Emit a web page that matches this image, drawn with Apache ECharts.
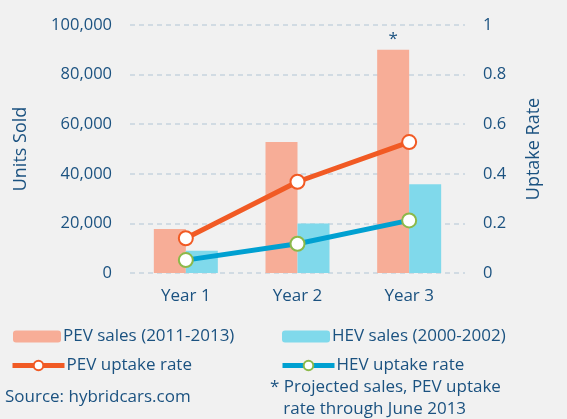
<!DOCTYPE html>
<html>
<head>
<meta charset="utf-8">
<title>PEV vs HEV uptake</title>
<script src="https://cdn.jsdelivr.net/npm/echarts@6/dist/echarts.min.js"></script>
<style>
  html, body { margin: 0; padding: 0; background: #f1f1f1; }
  #main { width: 567px; height: 419px; }
</style>
</head>
<body>
<div id="main"></div>
<script>
var years = ['Year 1', 'Year 2', 'Year 3'];
var pevSales = [17700, 52800, 90000];
var hevSales = [9000, 20000, 35800];
var pevRate = [0.14, 0.368, 0.528];
var hevRate = [0.052, 0.118, 0.212];

var navy = '#1b5280';
var font = 'Open Sans';

var chart = echarts.init(document.getElementById('main'));

var pevBarData = pevSales.map(function (v, i) {
    // last year is projected, marked with a star
    if (i === pevSales.length - 1) {
        return { value: v, label: { show: true, position: 'top', formatter: '*', color: navy, fontSize: 17, distance: 2 } };
    }
    return v;
});

var legendText = { color: navy, fontSize: 17, fontFamily: font, padding: [0, 0, 0, -3] };

chart.setOption({
    backgroundColor: '#f1f1f1',
    animation: false,
    textStyle: { fontFamily: font },
    grid: { left: 130, right: 102, top: 25, bottom: 146 },
    legend: [
        { data: ['PEV sales (2011-2013)'], left: 8, top: 323, itemWidth: 48, itemHeight: 12,
          textStyle: legendText, selectedMode: false },
        { data: ['HEV sales (2000-2002)'], left: 277, top: 323, itemWidth: 48, itemHeight: 12,
          textStyle: legendText, selectedMode: false },
        { data: ['PEV uptake rate'], left: 5, top: 352, itemWidth: 52, itemHeight: 12,
          textStyle: legendText, selectedMode: false, lineStyle: { width: 5 } },
        { data: ['HEV uptake rate'], left: 275, top: 352, itemWidth: 52, itemHeight: 12,
          textStyle: legendText, selectedMode: false, lineStyle: { width: 5 } }
    ],
    graphic: [
        { type: 'text', left: 5, top: 389, style: { text: 'Source: hybridcars.com', fill: navy, fontSize: 17, fontFamily: font } },
        { type: 'text', left: 270, top: 376, style: { text: '* Projected sales, PEV uptake\n   rate through June 2013', fill: navy, fontSize: 17, lineHeight: 22, fontFamily: font } }
    ],
    xAxis: {
        type: 'category',
        data: years,
        axisLine: { show: false },
        axisTick: { show: false },
        axisLabel: { color: navy, fontSize: 17, margin: 15 }
    },
    yAxis: [
        {
            type: 'value', min: 0, max: 100000, interval: 20000,
            name: 'Units Sold', nameLocation: 'middle', nameRotate: 90, nameGap: 100,
            nameTextStyle: { color: navy, fontSize: 18 },
            axisLabel: { color: navy, fontSize: 16.5, margin: 18,
                formatter: function (v) { return v.toLocaleString('en-US'); } },
            splitLine: { lineStyle: { color: '#c6d4de', type: [5, 4], width: 1.5 } }
        },
        {
            type: 'value', min: 0, max: 1, interval: 0.2,
            name: 'Uptake Rate', nameLocation: 'middle', nameRotate: 90, nameGap: 60,
            nameTextStyle: { color: navy, fontSize: 18 },
            axisLabel: { color: navy, fontSize: 16.5, margin: 18 },
            splitLine: { show: false }
        }
    ],
    series: [
        { name: 'PEV sales (2011-2013)', type: 'bar', data: pevBarData, barWidth: 32, barGap: '0%',
          itemStyle: { color: '#f7ad97' } },
        { name: 'HEV sales (2000-2002)', type: 'bar', data: hevSales, barWidth: 32,
          itemStyle: { color: '#80d9eb' } },
        { name: 'PEV uptake rate', type: 'line', yAxisIndex: 1, data: pevRate,
          symbol: 'circle', symbolSize: 14,
          lineStyle: { color: '#f15a24', width: 5 },
          itemStyle: { color: '#ffffff', borderColor: '#f15a24', borderWidth: 2 } },
        { name: 'HEV uptake rate', type: 'line', yAxisIndex: 1, data: hevRate,
          symbol: 'circle', symbolSize: 14,
          lineStyle: { color: '#00a0d1', width: 5 },
          itemStyle: { color: '#ffffff', borderColor: '#8cb94a', borderWidth: 2 } }
    ]
});
</script>
</body>
</html>
